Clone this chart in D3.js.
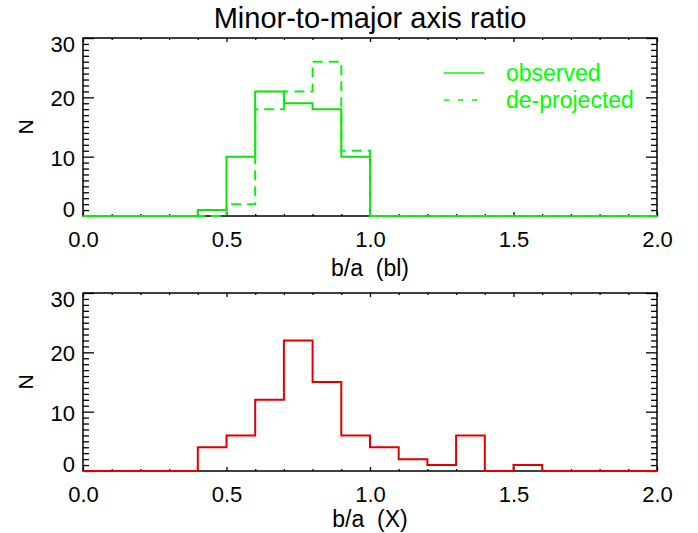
<!DOCTYPE html>
<html>
<head>
<meta charset="utf-8">
<script src="https://cdn.jsdelivr.net/npm/d3@7"></script>
<style>
  body { margin: 0; background: #fff; }
  text { font-family: "Liberation Sans", Arial, sans-serif; }
</style>
</head>
<body>
<svg id="chart" width="698" height="533"></svg>
<script>
// histogram bins (lower edges), width 0.1
const binStarts = [0.0, 0.1, 0.2, 0.3, 0.4, 0.5, 0.6, 0.7, 0.8, 0.9,
                   1.0, 1.1, 1.2, 1.3, 1.4, 1.5, 1.6, 1.7, 1.8, 1.9];
const binEnd = 2.0;

const observed    = [0, 0, 0, 0, 1, 10, 21, 19, 18, 10, 0, 0, 0, 0, 0, 0, 0, 0, 0, 0];
const deprojected = [0, 0, 0, 0, 0, 2, 18, 21, 26, 11, 0, 0, 0, 0, 0, 0, 0, 0, 0, 0];
const xBand       = [0, 0, 0, 0, 4, 6, 12, 22, 15, 6, 4, 2, 1, 6, 0, 1, 0, 0, 0, 0];

const xMajor = [0, 0.5, 1.0, 1.5, 2.0];
const xMinor = [0.1, 0.2, 0.3, 0.4, 0.6, 0.7, 0.8, 0.9, 1.1, 1.2, 1.3, 1.4, 1.6, 1.7, 1.8, 1.9];
const yMajor = [0, 10, 20, 30];
const yMinor = d3.range(0, 31).filter(d => d % 10 !== 0);

const legendNames = ['observed', 'de-projected'];

const svg = d3.select('#chart');
const left = 83, right = 657;
const green = '#00ff00';

const x = d3.scaleLinear().domain([0, 2]).range([left, right]);

svg.append('text')
    .attr('x', (left + right) / 2)
    .attr('y', 28)
    .attr('text-anchor', 'middle')
    .attr('font-size', 29)
    .text('Minor-to-major axis ratio');

function panel(top, bottom, xlabel, labelY) {
    const g = svg.append('g');
    const y = d3.scaleLinear().domain([0, 30]).range([bottom, top]);

    // minor ticks
    g.append('g').attr('transform', `translate(0,${bottom})`)
        .call(d3.axisBottom(x).tickValues(xMinor).tickSize(-2).tickFormat(''));
    g.append('g').attr('transform', `translate(0,${top})`)
        .call(d3.axisTop(x).tickValues(xMinor).tickSize(-2).tickFormat(''));
    g.append('g').attr('transform', `translate(${left},0)`)
        .call(d3.axisLeft(y).tickValues(yMinor).tickSize(-6).tickFormat(''));
    g.append('g').attr('transform', `translate(${right},0)`)
        .call(d3.axisRight(y).tickValues(yMinor).tickSize(-6).tickFormat(''));

    // major ticks
    g.append('g').attr('transform', `translate(0,${bottom})`)
        .call(d3.axisBottom(x).tickValues(xMajor).tickSize(-4).tickPadding(15).tickFormat(d3.format('.1f')));
    g.append('g').attr('transform', `translate(0,${top})`)
        .call(d3.axisTop(x).tickValues(xMajor).tickSize(-4).tickFormat(''));
    const yl = g.append('g').attr('transform', `translate(${left},0)`)
        .call(d3.axisLeft(y).tickValues(yMajor).tickSize(-11).tickPadding(8).tickFormat(d3.format('d')));
    g.append('g').attr('transform', `translate(${right},0)`)
        .call(d3.axisRight(y).tickValues(yMajor).tickSize(-11).tickFormat(''));

    g.selectAll('.domain').remove();
    g.selectAll('.tick line').attr('stroke', '#000').attr('stroke-width', 1.3);
    g.selectAll('.tick text').attr('font-size', 22).attr('fill', '#000')
        .attr('font-family', '"Liberation Sans", Arial, sans-serif');
    // end labels are kept inside the box
    yl.selectAll('.tick text').attr('y', d => d === 30 ? 6 : d === 0 ? -7 : 1.5);

    g.append('rect')
        .attr('x', left).attr('y', top)
        .attr('width', right - left).attr('height', bottom - top)
        .attr('fill', 'none').attr('stroke', '#000').attr('stroke-width', 1.5);

    g.append('text')
        .attr('x', (left + right) / 2)
        .attr('y', labelY)
        .attr('text-anchor', 'middle')
        .attr('font-size', 23)
        .attr('xml:space', 'preserve')
        .text(xlabel);

    g.append('text')
        .attr('transform', `translate(33,${(top + bottom) / 2}) rotate(-90)`)
        .attr('text-anchor', 'middle')
        .attr('font-size', 21)
        .text('N');

    return y;
}

function stepPath(vals, y) {
    const pts = binStarts.map((b, i) => [b, vals[i]]);
    pts.push([binEnd, vals[vals.length - 1]]);
    return d3.line().x(d => x(d[0])).y(d => y(d[1])).curve(d3.curveStepAfter)(pts);
}

// top panel
const y1 = panel(38, 216, 'b/a  (bl)', 276);
svg.append('path').attr('d', stepPath(observed, y1))
    .attr('fill', 'none').attr('stroke', '#11dd11').attr('stroke-width', 2);
svg.append('path').attr('d', stepPath(deprojected, y1))
    .attr('fill', 'none').attr('stroke', '#11ee11').attr('stroke-width', 2)
    .attr('stroke-dasharray', '10,6');

// legend
const leg = svg.append('g');
legendNames.forEach((name, i) => {
    const ly = 73 + i * 27;
    leg.append('line')
        .attr('x1', 444).attr('x2', 484).attr('y1', ly).attr('y2', ly)
        .attr('stroke', green).attr('stroke-width', 1.5)
        .attr('stroke-dasharray', i === 0 ? null : '5,9');
    leg.append('text')
        .attr('x', 506).attr('y', ly + 8)
        .attr('font-size', 23)
        .attr('fill', green)
        .text(name);
});

// bottom panel
const y2 = panel(293, 471, 'b/a  (X)', 527);
svg.append('path').attr('d', stepPath(xBand, y2))
    .attr('fill', 'none').attr('stroke', '#e00000').attr('stroke-width', 2);
</script>
</body>
</html>
